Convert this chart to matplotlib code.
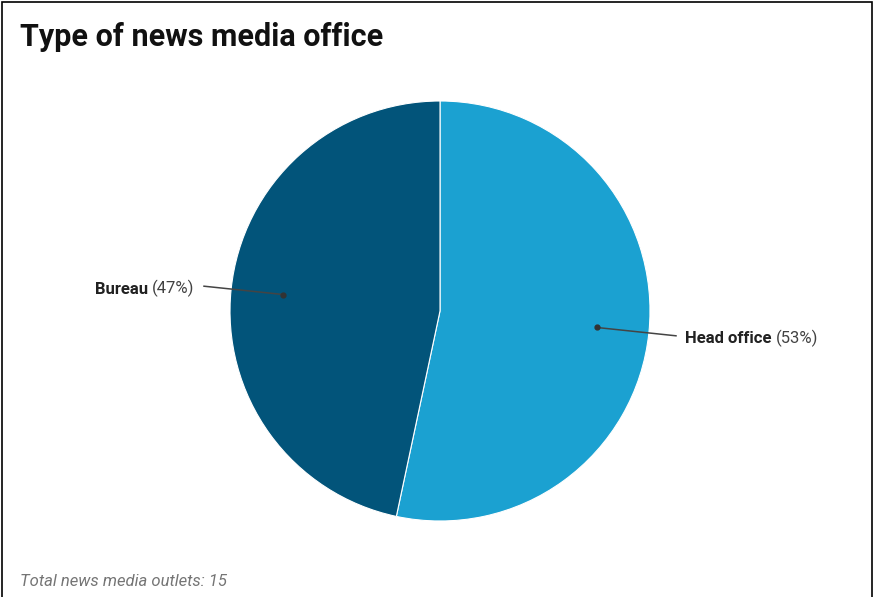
import numpy as np
import matplotlib.pyplot as plt
from matplotlib.patches import Rectangle
from matplotlib.offsetbox import TextArea, HPacker, AnnotationBbox

plt.rcParams['font.family'] = ['Roboto', 'DejaVu Sans']

# data
categories = ['Head office', 'Bureau']
counts = [8, 7]
colors = ['#1ba1d1', '#02547a']
title = 'Type of news media office'
note = 'Total news media outlets: 15'

W, H = 874, 597
fig = plt.figure(figsize=(W / 100, H / 100), dpi=100)

# pie axes: centre (440, 311) px, radius 210 px
cx, cy, r = 440, 311, 210
side = 2.5 * r
ax = fig.add_axes([cx / W - side / 2 / W, 1 - cy / H - side / 2 / H, side / W, side / H])
wedges, _ = ax.pie(counts, colors=colors, startangle=90, counterclock=False,
                   wedgeprops=dict(edgecolor='white', linewidth=0.8))
ax.set_aspect('equal')

total = sum(counts)
for w, name, n in zip(wedges, categories, counts):
    mid = np.deg2rad((w.theta1 + w.theta2) / 2)
    dot = (0.75 * np.cos(mid), 0.75 * np.sin(mid))
    end = (1.13 * np.cos(mid), 1.13 * np.sin(mid))
    ax.plot([dot[0], end[0]], [dot[1], end[1]], color='#444444', lw=1.1)
    ax.plot(*dot, 'o', color='#333333', ms=3.5)
    pct = round(100 * n / total)
    box = HPacker(children=[
        TextArea(name, textprops=dict(fontweight='bold', fontsize=12, color='#212121')),
        TextArea(f'({pct}%)', textprops=dict(fontsize=12, color='#424242'))],
        pad=0, sep=3, align='baseline')
    right = np.cos(mid) > 0
    tx = end[0] + (0.045 if right else -0.045)
    ab = AnnotationBbox(box, (tx, end[1] - 0.012), xycoords='data',
                        box_alignment=(0 if right else 1, 0.5), frameon=False, pad=0)
    ax.add_artist(ab)

fig.text(20 / W, 1 - 46 / H, title, fontsize=22, fontweight='bold', color='#111111',
         va='baseline', ha='left')
fig.text(20 / W, 1 - 586 / H, note, fontsize=12, style='italic', color='#757575',
         va='baseline', ha='left')

fig.patches.append(Rectangle((2 / W, -0.1), (W - 4) / W, 1.1 - 2 / H, transform=fig.transFigure,
                             fill=False, edgecolor='black', lw=1.2, figure=fig))

fig.savefig('out.png', dpi=100)
